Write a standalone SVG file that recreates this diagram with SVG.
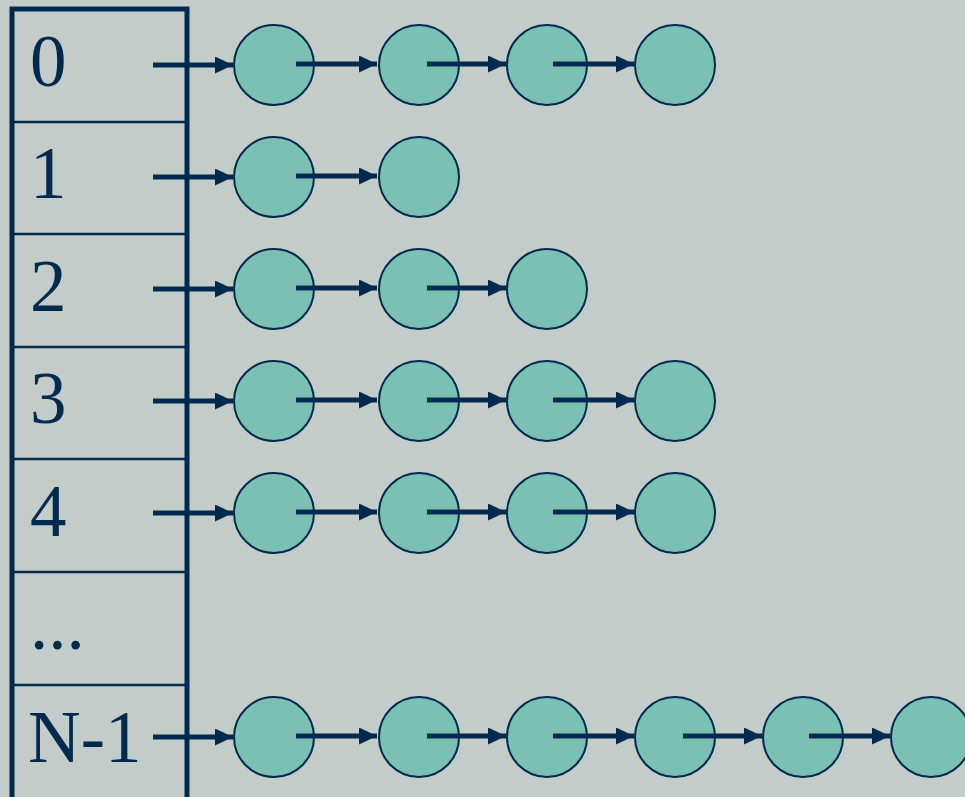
<svg xmlns="http://www.w3.org/2000/svg" width="965" height="797" viewBox="0 0 965 797">
<defs>
<style>
.sep{stroke:#012A4E;stroke-width:2.5}
.frame{stroke:#012A4E;stroke-width:5;fill:none}
.lbl{font-family:"Liberation Serif","Times New Roman",serif;font-size:73px;fill:#012A4E}
.node{fill:#7AC1B3;stroke:#012A4E;stroke-width:2}
.arr{stroke:#012A4E;stroke-width:5;fill:none;marker-end:url(#ah)}
</style>
<marker id="ah" markerUnits="userSpaceOnUse" markerWidth="20" markerHeight="18" refX="18" refY="8.5" orient="auto">
<path d="M0,0 L18,8.5 L0,17 Z" fill="#012A4E"/>
</marker>
</defs>
<rect width="965" height="797" fill="#C4CCC9"/>
<g id="table">
<line class="sep" x1="12" y1="122" x2="187" y2="122"/>
<line class="sep" x1="12" y1="234" x2="187" y2="234"/>
<line class="sep" x1="12" y1="347" x2="187" y2="347"/>
<line class="sep" x1="12" y1="459" x2="187" y2="459"/>
<line class="sep" x1="12" y1="572" x2="187" y2="572"/>
<line class="sep" x1="12" y1="685" x2="187" y2="685"/>
<path class="frame" d="M12,797 L12,9 L187,9 L187,797"/>
<text class="lbl" x="30" y="86">0</text>
<text class="lbl" x="30" y="198">1</text>
<text class="lbl" x="30" y="311">2</text>
<text class="lbl" x="30" y="423">3</text>
<text class="lbl" x="30" y="536">4</text>
<text class="lbl" x="30" y="649">...</text>
<text class="lbl" x="28" y="762">N-1</text>
</g>
<g id="nodes">
<g id="row0">
<circle class="node" cx="274" cy="65" r="40"/>
<circle class="node" cx="419" cy="65" r="40"/>
<circle class="node" cx="547" cy="65" r="40"/>
<circle class="node" cx="675" cy="65" r="40"/>
</g>
<g id="row1">
<circle class="node" cx="274" cy="177" r="40"/>
<circle class="node" cx="419" cy="177" r="40"/>
</g>
<g id="row2">
<circle class="node" cx="274" cy="289" r="40"/>
<circle class="node" cx="419" cy="289" r="40"/>
<circle class="node" cx="547" cy="289" r="40"/>
</g>
<g id="row3">
<circle class="node" cx="274" cy="401" r="40"/>
<circle class="node" cx="419" cy="401" r="40"/>
<circle class="node" cx="547" cy="401" r="40"/>
<circle class="node" cx="675" cy="401" r="40"/>
</g>
<g id="row4">
<circle class="node" cx="274" cy="513" r="40"/>
<circle class="node" cx="419" cy="513" r="40"/>
<circle class="node" cx="547" cy="513" r="40"/>
<circle class="node" cx="675" cy="513" r="40"/>
</g>
<g id="rowN">
<circle class="node" cx="274" cy="737" r="40"/>
<circle class="node" cx="419" cy="737" r="40"/>
<circle class="node" cx="547" cy="737" r="40"/>
<circle class="node" cx="675" cy="737" r="40"/>
<circle class="node" cx="803" cy="737" r="40"/>
<circle class="node" cx="931" cy="737" r="40"/>
</g>
</g>
<g id="connectors">
<line class="arr" x1="153" y1="65" x2="233" y2="65"/>
<line class="arr" x1="296" y1="64" x2="377" y2="64"/>
<line class="arr" x1="427" y1="64" x2="506" y2="64"/>
<line class="arr" x1="553" y1="64" x2="634" y2="64"/>

<line class="arr" x1="153" y1="177" x2="233" y2="177"/>
<line class="arr" x1="296" y1="176" x2="377" y2="176"/>

<line class="arr" x1="153" y1="289" x2="233" y2="289"/>
<line class="arr" x1="296" y1="288" x2="377" y2="288"/>
<line class="arr" x1="427" y1="288" x2="506" y2="288"/>

<line class="arr" x1="153" y1="401" x2="233" y2="401"/>
<line class="arr" x1="296" y1="400" x2="377" y2="400"/>
<line class="arr" x1="427" y1="400" x2="506" y2="400"/>
<line class="arr" x1="553" y1="400" x2="634" y2="400"/>

<line class="arr" x1="153" y1="513" x2="233" y2="513"/>
<line class="arr" x1="296" y1="512" x2="377" y2="512"/>
<line class="arr" x1="427" y1="512" x2="506" y2="512"/>
<line class="arr" x1="553" y1="512" x2="634" y2="512"/>

<line class="arr" x1="153" y1="737" x2="233" y2="737"/>
<line class="arr" x1="296" y1="736" x2="377" y2="736"/>
<line class="arr" x1="427" y1="736" x2="506" y2="736"/>
<line class="arr" x1="553" y1="736" x2="634" y2="736"/>
<line class="arr" x1="683" y1="736" x2="762" y2="736"/>
<line class="arr" x1="809" y1="736" x2="890" y2="736"/>
</g>
</svg>
